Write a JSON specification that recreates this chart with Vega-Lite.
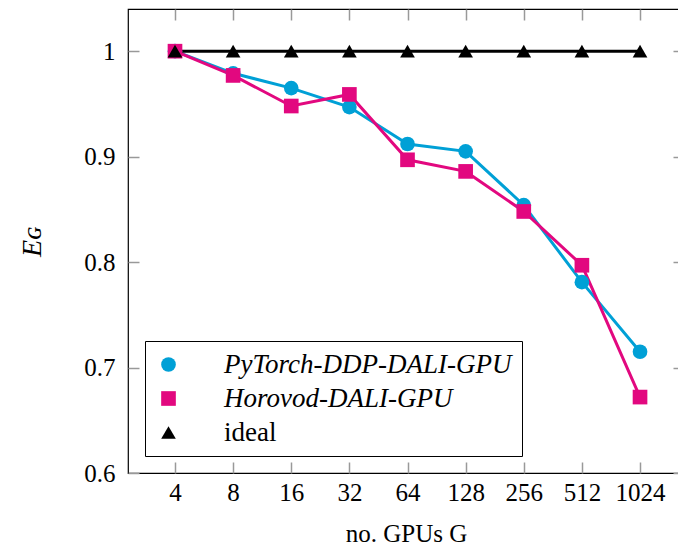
{
  "$schema": "https://vega.github.io/schema/vega-lite/v6.json",
  "width": 556,
  "height": 464,
  "autosize": "none",
  "padding": {"left": 128, "top": 9, "right": 0, "bottom": 78},
  "background": "white",
  "config": {
    "view": {"stroke": "black", "strokeWidth": 1.2},
    "font": "Liberation Serif",
    "axis": {"labelFont": "Liberation Serif", "titleFont": "Liberation Serif"},
    "legend": {"labelFont": "Liberation Serif"}
  },
  "data": {
    "values": [
      {"g": 4, "e": 1.0, "s": "PyTorch-DDP-DALI-GPU"},
      {"g": 8, "e": 0.979, "s": "PyTorch-DDP-DALI-GPU"},
      {"g": 16, "e": 0.965, "s": "PyTorch-DDP-DALI-GPU"},
      {"g": 32, "e": 0.947, "s": "PyTorch-DDP-DALI-GPU"},
      {"g": 64, "e": 0.912, "s": "PyTorch-DDP-DALI-GPU"},
      {"g": 128, "e": 0.905, "s": "PyTorch-DDP-DALI-GPU"},
      {"g": 256, "e": 0.854, "s": "PyTorch-DDP-DALI-GPU"},
      {"g": 512, "e": 0.781, "s": "PyTorch-DDP-DALI-GPU"},
      {"g": 1024, "e": 0.715, "s": "PyTorch-DDP-DALI-GPU"},
      {"g": 4, "e": 1.0, "s": "Horovod-DALI-GPU"},
      {"g": 8, "e": 0.977, "s": "Horovod-DALI-GPU"},
      {"g": 16, "e": 0.948, "s": "Horovod-DALI-GPU"},
      {"g": 32, "e": 0.959, "s": "Horovod-DALI-GPU"},
      {"g": 64, "e": 0.897, "s": "Horovod-DALI-GPU"},
      {"g": 128, "e": 0.886, "s": "Horovod-DALI-GPU"},
      {"g": 256, "e": 0.848, "s": "Horovod-DALI-GPU"},
      {"g": 512, "e": 0.797, "s": "Horovod-DALI-GPU"},
      {"g": 1024, "e": 0.672, "s": "Horovod-DALI-GPU"},
      {"g": 4, "e": 1.0, "s": "ideal"},
      {"g": 8, "e": 1.0, "s": "ideal"},
      {"g": 16, "e": 1.0, "s": "ideal"},
      {"g": 32, "e": 1.0, "s": "ideal"},
      {"g": 64, "e": 1.0, "s": "ideal"},
      {"g": 128, "e": 1.0, "s": "ideal"},
      {"g": 256, "e": 1.0, "s": "ideal"},
      {"g": 512, "e": 1.0, "s": "ideal"},
      {"g": 1024, "e": 1.0, "s": "ideal"}
    ]
  },
  "resolve": {"axis": {"x": "independent", "y": "independent"}},
  "layer": [
    {
      "layer": [
        {
          "mark": {"type": "line", "strokeWidth": 3},
          "encoding": {
            "x": {
              "field": "g", "type": "quantitative",
              "scale": {"type": "log", "base": 2, "domain": [2.284, 1730], "nice": false},
              "axis": {
                "values": [4, 8, 16, 32, 64, 128, 256, 512, 1024],
                "format": "d",
                "title": "no. GPUs G",
                "grid": false, "domain": false, "offset": -11, "zindex": 1,
                "ticks": true, "tickSize": 11, "tickColor": "#999999", "tickWidth": 1.5, "tickOpacity": 1,
                "labelFontSize": 25, "labelColor": "black", "labelPadding": 7,
                "labelFlush": false, "labelOverlap": false,
                "titleFontSize": 25, "titleFontWeight": "normal", "titleColor": "black", "titlePadding": 16
              }
            },
            "y": {
              "field": "e", "type": "quantitative",
              "scale": {"domain": [0.6, 1.04], "nice": false, "zero": false},
              "axis": {
                "values": [0.6, 0.7, 0.8, 0.9, 1],
                "format": ".1~f",
                "title": "Eɢ",
                "titleFontStyle": "italic",
                "grid": false, "domain": false, "offset": -11, "zindex": 1,
                "ticks": true, "tickSize": 11, "tickColor": "#999999", "tickWidth": 1.5, "tickOpacity": 1,
                "labelFontSize": 25, "labelColor": "black", "labelPadding": 13,
                "labelFlush": false,
                "titleFontSize": 28, "titleFontWeight": "normal", "titleColor": "black", "titlePadding": 37
              }
            },
            "color": {
              "field": "s", "type": "nominal",
              "scale": {"domain": ["PyTorch-DDP-DALI-GPU", "Horovod-DALI-GPU", "ideal"], "range": ["#00A0D6", "#E2087F", "#000000"]},
              "legend": {
                "title": null,
                "orient": "bottom-left",
                "offset": 17,
                "padding": 10,
                "strokeColor": "black",
                "fillColor": "white",
                "labelFontSize": 27,
                "labelColor": "black",
                "labelOffset": 42,
                "labelLimit": 500,
                "rowPadding": 6,
                "symbolSize": 215,
                "symbolStrokeWidth": 0,
                "zindex": 2,
                "encoding": {
                  "labels": {"fontStyle": {"value": {"expr": "datum.value === 'ideal' ? 'normal' : 'italic'"}}},
                  "symbols": {
                    "shape": {"value": {"expr": "datum.value === 'ideal' ? 'M-1,-0.2H5.68V0.2H-1Z M2.34,-0.866L3.34,0.866L1.34,0.866Z' : datum.value === 'Horovod-DALI-GPU' ? 'M-1,-0.2H5.68V0.2H-1Z M1.34,-1H3.34V1H1.34Z' : 'M-1,-0.2H5.68V0.2H-1Z M3.34,0A1,1,0,1,1,1.34,0A1,1,0,1,1,3.34,0Z'"}},
                    "fill": {"value": {"expr": "datum.value === 'ideal' ? '#000000' : datum.value === 'Horovod-DALI-GPU' ? '#E2087F' : '#00A0D6'"}},
                    "strokeWidth": {"value": 0},
                    "opacity": {"value": 1}
                  }
                }
              }
            },
            "order": {"field": "g", "type": "quantitative"}
          }
        },
        {
          "mark": {"type": "point", "filled": true, "size": 215, "opacity": 1},
          "encoding": {
            "x": {"field": "g", "type": "quantitative"},
            "y": {"field": "e", "type": "quantitative"},
            "color": {
              "field": "s", "type": "nominal",
              "legend": {
                "title": null,
                "orient": "bottom-left",
                "offset": 17,
                "padding": 10,
                "strokeColor": "black",
                "fillColor": "white",
                "labelFontSize": 27,
                "labelColor": "black",
                "labelOffset": 42,
                "labelLimit": 500,
                "rowPadding": 6,
                "symbolSize": 215,
                "symbolStrokeWidth": 0,
                "zindex": 2,
                "encoding": {
                  "labels": {"fontStyle": {"value": {"expr": "datum.value === 'ideal' ? 'normal' : 'italic'"}}},
                  "symbols": {
                    "shape": {"value": {"expr": "datum.value === 'ideal' ? 'M-1,-0.2H5.68V0.2H-1Z M2.34,-0.866L3.34,0.866L1.34,0.866Z' : datum.value === 'Horovod-DALI-GPU' ? 'M-1,-0.2H5.68V0.2H-1Z M1.34,-1H3.34V1H1.34Z' : 'M-1,-0.2H5.68V0.2H-1Z M3.34,0A1,1,0,1,1,1.34,0A1,1,0,1,1,3.34,0Z'"}},
                    "fill": {"value": {"expr": "datum.value === 'ideal' ? '#000000' : datum.value === 'Horovod-DALI-GPU' ? '#E2087F' : '#00A0D6'"}},
                    "strokeWidth": {"value": 0},
                    "opacity": {"value": 1}
                  }
                }
              }
            },
            "shape": {
              "field": "s", "type": "nominal",
              "scale": {"domain": ["PyTorch-DDP-DALI-GPU", "Horovod-DALI-GPU", "ideal"], "range": ["circle", "square", "triangle-up"]},
              "legend": {
                "title": null,
                "orient": "bottom-left",
                "offset": 17,
                "padding": 10,
                "strokeColor": "black",
                "fillColor": "white",
                "labelFontSize": 27,
                "labelColor": "black",
                "labelOffset": 42,
                "labelLimit": 500,
                "rowPadding": 6,
                "symbolSize": 215,
                "symbolStrokeWidth": 0,
                "zindex": 2,
                "encoding": {
                  "labels": {"fontStyle": {"value": {"expr": "datum.value === 'ideal' ? 'normal' : 'italic'"}}},
                  "symbols": {
                    "shape": {"value": {"expr": "datum.value === 'ideal' ? 'M-1,-0.2H5.68V0.2H-1Z M2.34,-0.866L3.34,0.866L1.34,0.866Z' : datum.value === 'Horovod-DALI-GPU' ? 'M-1,-0.2H5.68V0.2H-1Z M1.34,-1H3.34V1H1.34Z' : 'M-1,-0.2H5.68V0.2H-1Z M3.34,0A1,1,0,1,1,1.34,0A1,1,0,1,1,3.34,0Z'"}},
                    "fill": {"value": {"expr": "datum.value === 'ideal' ? '#000000' : datum.value === 'Horovod-DALI-GPU' ? '#E2087F' : '#00A0D6'"}},
                    "strokeWidth": {"value": 0},
                    "opacity": {"value": 1}
                  }
                }
              }
            }
          }
        }
      ]
    },
    {
      "mark": {"type": "point", "opacity": 0},
      "encoding": {
        "x": {
          "field": "g", "type": "quantitative",
          "axis": {
            "orient": "top", "values": [4, 8, 16, 32, 64, 128, 256, 512, 1024],
            "labels": false, "title": null, "grid": false, "domain": false, "offset": -11, "zindex": 1,
            "ticks": true, "tickSize": 11, "tickColor": "#999999", "tickWidth": 1.5, "tickOpacity": 1
          }
        },
        "y": {
          "field": "e", "type": "quantitative",
          "axis": {
            "orient": "right", "values": [0.6, 0.7, 0.8, 0.9, 1],
            "labels": false, "title": null, "grid": false, "domain": false, "offset": -11, "zindex": 1,
            "ticks": true, "tickSize": 11, "tickColor": "#999999", "tickWidth": 1.5, "tickOpacity": 1
          }
        }
      }
    }
  ]
}
